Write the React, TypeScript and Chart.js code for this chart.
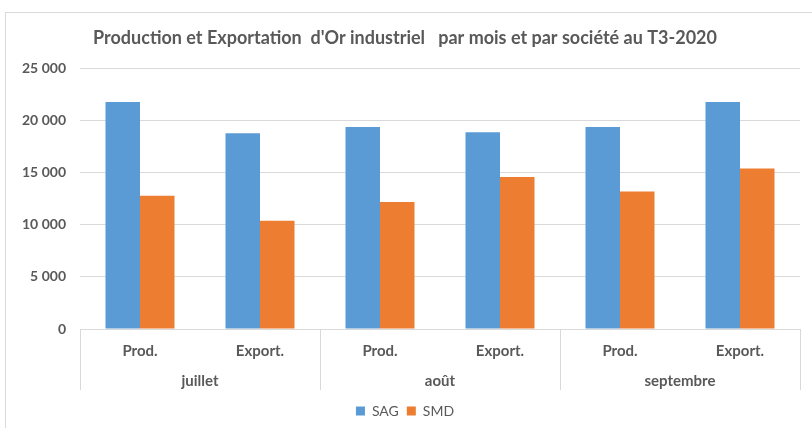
import React, { useEffect, useRef } from "react";
import { Chart, registerables } from "chart.js";

Chart.register(...registerables);

const subCategories = ["Prod.", "Export.", "Prod.", "Export.", "Prod.", "Export."];
const months = ["juillet", "août", "septembre"];
const sagValues = [21800, 18800, 19400, 18900, 19400, 21800];
const smdValues = [12800, 10400, 12200, 14600, 13200, 15400];
const yTicks = [0, 5000, 10000, 15000, 20000, 25000];
const title = "Production et Exportation  d'Or industriel   par mois et par société au T3-2020";

const FONT = "Lato, 'Liberation Sans', sans-serif";
const GRAY = "#595959";
const GRID = "#d9d9d9";

const fmt = (v: number) => String(v).replace(/\B(?=(\d{3})+(?!\d))/g, " ");

const separatorPlugin = {
  id: "groupSeparators",
  afterDraw(chart: any) {
    const x = chart.scales.x;
    const ctx = chart.ctx;
    const top = chart.chartArea.bottom;
    const bottom = top + 61;
    const half = (x.getPixelForValue(1) - x.getPixelForValue(0)) / 2;
    ctx.save();
    ctx.strokeStyle = GRID;
    ctx.lineWidth = 1;
    for (let i = 0; i <= subCategories.length; i += 2) {
      const px = Math.round(x.getPixelForValue(i) - half) + 0.5;
      ctx.beginPath();
      ctx.moveTo(px, top);
      ctx.lineTo(px, bottom);
      ctx.stroke();
    }
    ctx.restore();
  },
};

export default function App() {
  const ref = useRef<HTMLCanvasElement | null>(null);
  useEffect(() => {
    if (!ref.current) return;
    const chart = new Chart(ref.current, {
      type: "bar",
      data: {
        labels: subCategories,
        datasets: [
          { label: "SAG", data: sagValues, backgroundColor: "#5B9BD5", xAxisID: "x" },
          { label: "SMD", data: smdValues, backgroundColor: "#ED7D31", xAxisID: "x" },
        ],
      },
      options: {
        animation: false,
        responsive: false,
        maintainAspectRatio: false,
        layout: { padding: { left: 10, right: 12, top: 0, bottom: 0 } },
        datasets: { bar: { barPercentage: 1, categoryPercentage: 0.575 } } as any,
        plugins: {
          title: {
            display: true,
            text: title,
            color: GRAY,
            font: { family: FONT, size: 18, weight: "bold" },
            padding: { top: 27, bottom: 20 },
          },
          legend: {
            position: "bottom",
            labels: {
              color: GRAY,
              font: { family: FONT, size: 14 },
              boxWidth: 9,
              boxHeight: 9,
              padding: 8,
            },
          },
          tooltip: { enabled: false },
        },
        scales: {
          y: {
            min: 0,
            max: 25000,
            afterBuildTicks: (s: any) => {
              s.ticks = yTicks.map((v) => ({ value: v }));
            },
            afterFit: (s: any) => {
              s.width = 70;
            },
            ticks: {
              color: GRAY,
              font: { family: FONT, size: 14, weight: "bold" },
              padding: 14,
              callback: (v: any) => fmt(Number(v)),
            },
            grid: { color: GRID, drawTicks: false },
            border: { display: false },
          },
          x: {
            type: "category",
            labels: subCategories,
            position: "bottom",
            grid: { display: false },
            border: { display: true, color: GRID },
            afterFit: (s: any) => {
              s.height = 32;
            },
            ticks: {
              color: GRAY,
              font: { family: FONT, size: 15, weight: "bold" },
              padding: 5,
              maxRotation: 0,
            },
          },
          x2: {
            type: "category",
            labels: months,
            position: "bottom",
            offset: true,
            grid: { display: false },
            border: { display: false },
            afterFit: (s: any) => {
              s.height = 35;
            },
            ticks: {
              color: GRAY,
              font: { family: FONT, size: 15, weight: "bold" },
              padding: 3,
              maxRotation: 0,
            },
          },
        },
      },
      plugins: [separatorPlugin],
    } as any);
    return () => chart.destroy();
  }, []);
  return (
    <div style={{ position: "fixed", left: 0, top: 0, width: 812, height: 428, background: "#fff" }}>
      <div
        style={{
          position: "absolute",
          left: 5,
          top: 12,
          width: 830,
          height: 430,
          border: "1px solid #d9d9d9",
          boxSizing: "border-box",
        }}
      />
      <canvas ref={ref} width={812} height={428} style={{ position: "absolute", left: 0, top: 0 }} />
    </div>
  );
}
